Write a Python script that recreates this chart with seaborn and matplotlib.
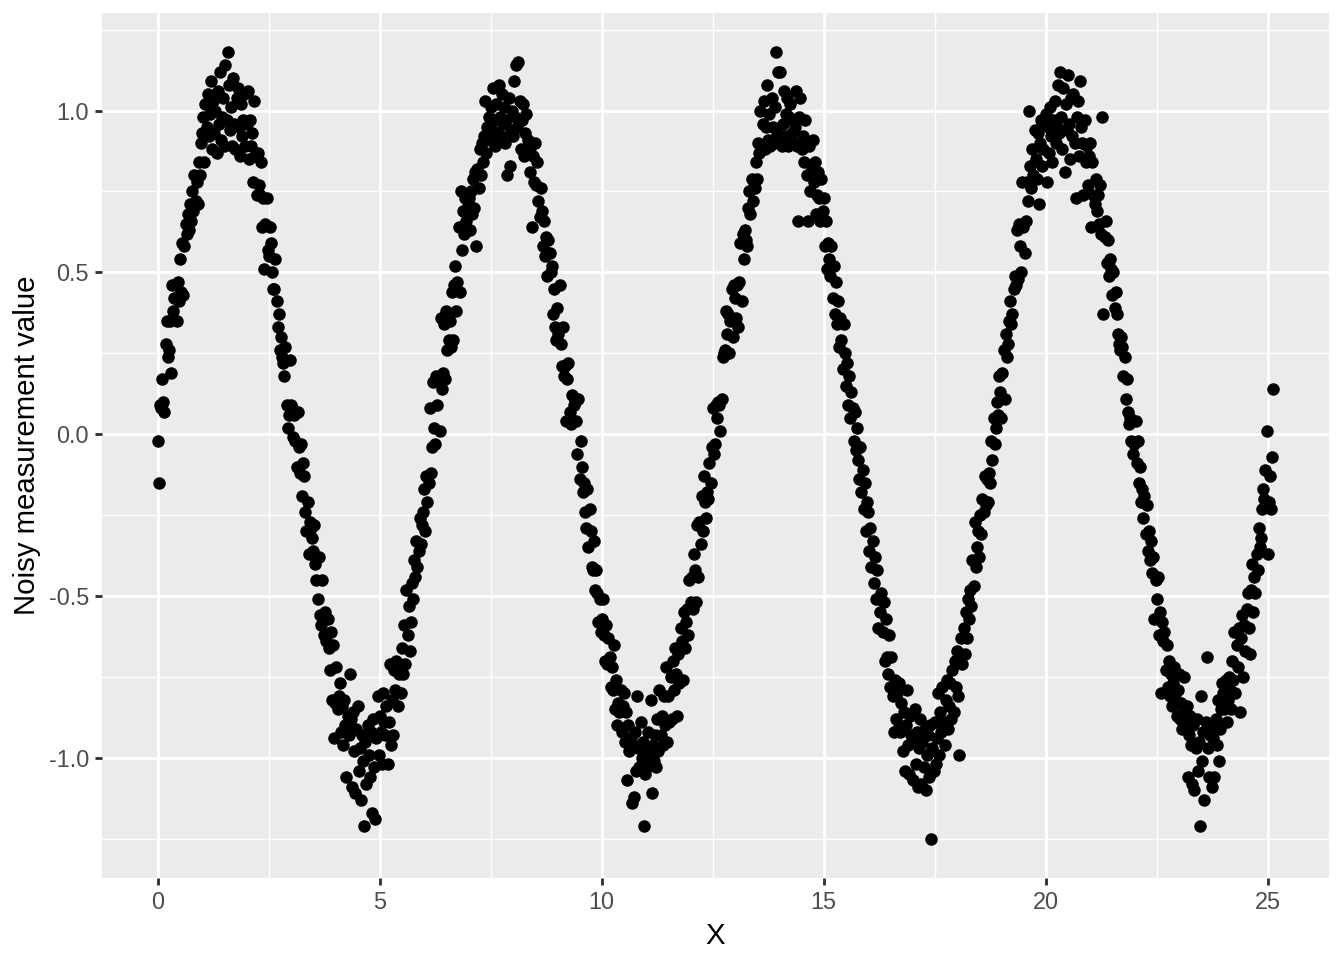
"""Noisy sine measurements: ggplot-style scatter, redrawn with seaborn."""

import matplotlib
matplotlib.use("Agg")
import matplotlib.pyplot as plt
import numpy as np
import pandas as pd
import seaborn as sns
from matplotlib.ticker import FuncFormatter, MultipleLocator


# x runs on an even grid from 0 to ~8*pi, one reading every 0.025
X_MIN, X_MAX = 0.0, 25.125

# readings, split by x-tick interval
Y_0_5 = [
    -0.02, -0.15, 0.09, 0.08, 0.17, 0.10, 0.07, 0.28, 0.35, 0.24, 0.26, 0.35, 0.19, 0.46, 0.38, 0.42, 0.46, 0.35, 0.47, 0.41,
    0.54, 0.44, 0.59, 0.43, 0.58, 0.65, 0.62, 0.68, 0.63, 0.71, 0.66, 0.75, 0.69, 0.80, 0.72, 0.78, 0.71, 0.84, 0.80, 0.90,
    0.93, 0.98, 0.84, 1.02, 0.95, 1.05, 0.92, 0.99, 1.09, 0.88, 1.03, 0.93, 1.00, 0.87, 1.06, 0.96, 1.12, 0.91, 0.98, 1.04,
    0.89, 1.14, 0.97, 1.18, 1.08, 0.94, 1.01, 0.89, 1.10, 0.96, 0.88, 1.04, 1.07, 0.95, 0.86, 1.02, 0.92, 0.97, 1.05, 0.89,
    0.96, 1.06, 0.85, 0.97, 0.89, 0.93, 0.78, 1.03, 0.86, 0.74, 0.87, 0.77, 0.74, 0.84, 0.64, 0.73, 0.51, 0.65, 0.73, 0.57,
    0.55, 0.64, 0.59, 0.50, 0.45, 0.45, 0.54, 0.41, 0.33, 0.37, 0.26, 0.30, 0.24, 0.22, 0.18, 0.27, 0.09, 0.02, 0.06, 0.23,
    0.09, 0.08, -0.01, 0.06, -0.02, -0.10, 0.07, -0.04, -0.12, -0.03, -0.19, -0.09, -0.13, -0.24, -0.30, -0.21, -0.37, -0.27, -0.29, -0.32,
    -0.36, -0.28, -0.40, -0.45, -0.51, -0.38, -0.56, -0.59, -0.45, -0.56, -0.62, -0.55, -0.64, -0.57, -0.66, -0.73, -0.61, -0.82, -0.65, -0.94,
    -0.83, -0.72, -0.85, -0.81, -0.77, -0.92, -0.84, -0.96, -0.82, -0.90, -1.06, -0.87, -0.93, -0.74, -0.88, -1.09, -0.86, -0.98, -1.11, -0.91,
    -0.84, -1.04, -0.97, -1.13, -0.93, -1.01, -1.21, -0.95, -1.08, -0.90, -0.99, -1.06, -0.92, -1.17, -0.88, -1.03, -1.19, -0.94, -0.81, -0.99,
]
Y_5_10 = [
    -0.87, -0.92, -1.02, -0.80, -0.89, -0.93, -0.84, -1.02, -0.89, -0.71, -0.96, -0.82, -0.93, -0.73, -0.79, -0.70, -0.84, -0.74, -0.71, -0.80,
    -0.66, -0.74, -0.59, -0.71, -0.48, -0.62, -0.53, -0.67, -0.58, -0.46, -0.51, -0.39, -0.44, -0.33, -0.41, -0.36, -0.26, -0.34, -0.28, -0.24,
    -0.17, -0.30, -0.13, -0.21, -0.15, 0.08, -0.12, -0.04, 0.16, 0.02, -0.03, 0.18, 0.09, 0.17, 0.01, 0.36, 0.14, 0.19, 0.34, 0.17,
    0.38, 0.26, 0.29, 0.35, 0.27, 0.44, 0.29, 0.46, 0.52, 0.38, 0.47, 0.64, 0.44, 0.75, 0.57, 0.69, 0.62, 0.73, 0.66, 0.70,
    0.73, 0.63, 0.75, 0.68, 0.79, 0.70, 0.81, 0.58, 0.82, 0.76, 0.88, 0.80, 0.90, 0.84, 0.92, 1.03, 0.87, 0.95, 0.98, 0.91,
    1.01, 0.94, 1.07, 0.97, 0.89, 1.02, 0.93, 1.08, 0.98, 0.92, 1.05, 0.96, 1.01, 0.90, 0.97, 0.80, 1.04, 0.83, 0.94, 1.00,
    0.92, 1.09, 0.98, 1.14, 0.95, 1.15, 1.03, 0.88, 0.97, 1.02, 0.86, 0.93, 0.99, 0.87, 0.91, 0.81, 0.89, 0.64, 0.86, 0.78,
    0.90, 0.77, 0.84, 0.72, 0.67, 0.76, 0.69, 0.58, 0.66, 0.55, 0.61, 0.49, 0.60, 0.56, 0.50, 0.52, 0.37, 0.45, 0.33, 0.29,
    0.39, 0.31, 0.46, 0.28, 0.21, 0.33, 0.18, 0.21, 0.04, 0.17, 0.22, 0.07, 0.03, 0.12, 0.04, 0.09, 0.10, 0.04, -0.06, 0.11,
    -0.14, -0.02, -0.10, -0.18, -0.15, -0.24, -0.29, -0.17, -0.35, -0.23, -0.30, -0.41, -0.42, -0.33, -0.48, -0.42, -0.49, -0.58, -0.51, -0.61,
]
Y_10_15 = [
    -0.57, -0.51, -0.62, -0.70, -0.59, -0.71, -0.63, -0.69, -0.78, -0.72, -0.79, -0.65, -0.85, -0.76, -0.90, -0.83, -0.86, -0.79, -0.92, -0.84,
    -0.80, -0.95, -0.86, -1.07, -0.90, -0.98, -0.94, -1.14, -0.96, -1.12, -0.92, -1.04, -0.81, -0.97, -1.03, -0.89, -1.00, -0.95, -1.21, -1.05,
    -0.98, -1.03, -0.92, -0.99, -0.82, -1.11, -0.96, -1.01, -0.93, -1.03, -0.88, -0.98, -0.79, -0.93, -0.87, -0.96, -0.81, -0.90, -0.72, -0.95,
    -0.81, -0.89, -0.75, -0.88, -0.70, -0.79, -0.66, -0.74, -0.87, -0.68, -0.77, -0.60, -0.64, -0.76, -0.55, -0.66, -0.58, -0.54, -0.62, -0.45,
    -0.52, -0.44, -0.54, -0.37, -0.42, -0.52, -0.28, -0.44, -0.27, -0.34, -0.19, -0.30, -0.13, -0.21, -0.26, -0.18, -0.20, -0.09, -0.15, -0.04,
    0.08, -0.06, -0.03, 0.09, 0.05, 0.10, 0.09, 0.01, 0.11, 0.24, 0.25, 0.26, 0.38, 0.31, 0.37, 0.25, 0.35, 0.45, 0.30, 0.46,
    0.42, 0.36, 0.46, 0.33, 0.47, 0.59, 0.41, 0.62, 0.54, 0.63, 0.60, 0.58, 0.70, 0.75, 0.68, 0.79, 0.72, 0.78, 0.76, 0.84,
    0.79, 0.90, 0.87, 1.00, 0.89, 0.96, 1.03, 0.88, 0.95, 1.08, 0.91, 0.99, 0.89, 1.04, 0.95, 0.90, 1.01, 1.18, 0.93, 1.12,
    0.91, 1.12, 0.89, 0.96, 1.06, 0.92, 0.99, 1.04, 0.89, 0.98, 1.02, 0.93, 0.97, 0.90, 0.95, 1.06, 0.89, 0.66, 0.98, 1.04,
    0.88, 0.92, 0.84, 0.97, 0.90, 0.80, 0.66, 0.89, 0.75, 0.82, 0.91, 0.78, 0.84, 0.68, 0.74, 0.81, 0.73, 0.66, 0.79, 0.69,
]
Y_15_20 = [
    0.73, 0.58, 0.66, 0.51, 0.59, 0.54, 0.49, 0.58, 0.42, 0.52, 0.37, 0.47, 0.34, 0.41, 0.27, 0.36, 0.29, 0.20, 0.34, 0.25,
    0.15, 0.22, 0.09, 0.18, 0.05, 0.13, 0.08, -0.02, 0.07, -0.05, 0.02, -0.08, -0.14, -0.04, -0.18, -0.11, -0.23, -0.15, -0.30, -0.21,
    -0.24, -0.36, -0.29, -0.41, -0.33, -0.46, -0.38, -0.51, -0.42, -0.60, -0.51, -0.55, -0.49, -0.61, -0.52, -0.70, -0.57, -0.69, -0.74, -0.62,
    -0.78, -0.69, -0.81, -0.92, -0.76, -0.88, -0.80, -0.91, -0.77, -0.92, -0.83, -0.98, -0.86, -1.04, -0.90, -0.79, -0.96, -1.05, -0.87, -0.93,
    -1.07, -0.94, -0.85, -1.02, -0.92, -1.09, -0.97, -0.88, -1.08, -0.95, -1.03, -0.91, -1.10, -0.99, -0.93, -1.06, -0.90, -1.25, -0.97, -1.04,
    -0.89, -1.02, -0.94, -0.80, -0.99, -0.86, -0.92, -0.78, -0.89, -0.96, -0.82, -0.76, -0.91, -0.84, -0.77, -0.88, -0.73, -0.86, -0.70, -0.78,
    -0.67, -0.81, -0.99, -0.70, -0.63, -0.71, -0.60, -0.68, -0.55, -0.63, -0.51, -0.57, -0.48, -0.53, -0.39, -0.47, -0.27, -0.41, -0.35, -0.30,
    -0.38, -0.25, -0.31, -0.20, -0.24, -0.13, -0.22, -0.14, -0.21, -0.12, -0.15, -0.02, -0.08, 0.05, -0.03, 0.02, 0.10, 0.06, 0.18, 0.13,
    0.05, 0.19, 0.26, 0.11, 0.31, 0.24, 0.28, 0.35, 0.41, 0.34, 0.37, 0.45, 0.49, 0.46, 0.63, 0.48, 0.65, 0.58, 0.50, 0.78,
    0.64, 0.56, 0.66, 0.78, 0.72, 1.00, 0.83, 0.76, 0.88, 0.80, 0.94, 0.85, 0.79, 0.93, 0.71, 0.90, 0.97, 0.83, 0.88, 0.96,
]
Y_20_25 = [
    0.99, 0.78, 0.95, 0.87, 1.01, 0.92, 0.84, 0.97, 1.03, 0.90, 0.95, 1.08, 0.93, 1.12, 0.98, 0.88, 1.07, 0.81, 1.02, 0.94,
    1.11, 0.96, 0.85, 1.04, 0.92, 1.05, 0.90, 0.73, 0.98, 1.03, 0.86, 1.09, 0.95, 0.90, 0.74, 0.97, 0.84, 0.89, 0.77, 0.86,
    0.90, 0.64, 0.84, 0.74, 0.71, 0.79, 0.69, 0.74, 0.65, 0.77, 0.62, 0.98, 0.37, 0.61, 0.66, 0.53, 0.60, 0.49, 0.54, 0.51,
    0.43, 0.50, 0.39, 0.44, 0.37, 0.31, 0.28, 0.26, 0.30, 0.27, 0.18, 0.24, 0.11, 0.17, 0.07, 0.03, 0.05, -0.02, 0.04, -0.06,
    -0.03, 0.04, -0.09, -0.02, -0.15, -0.10, -0.21, -0.17, -0.26, -0.19, -0.31, -0.22, -0.36, -0.30, -0.39, -0.33, -0.43, -0.38, -0.57, -0.45,
    -0.51, -0.44, -0.62, -0.55, -0.80, -0.58, -0.64, -0.61, -0.73, -0.65, -0.78, -0.70, -0.81, -0.74, -0.84, -0.77, -0.72, -0.82, -0.87, -0.79,
    -0.74, -0.88, -0.83, -0.91, -0.86, -0.75, -0.89, -0.84, -1.06, -0.93, -0.87, -0.96, -1.08, -0.90, -1.10, -0.97, -0.88, -1.04, -0.95, -1.21,
    -0.81, -1.01, -0.92, -1.13, -0.89, -0.69, -0.97, -1.06, -0.93, -0.90, -1.09, -0.94, -1.06, -0.88, -0.96, -0.82, -1.01, -0.91, -0.85, -0.77,
    -0.80, -0.85, -0.76, -0.89, -0.82, -0.75, -0.79, -0.85, -0.70, -0.76, -0.61, -0.80, -0.65, -0.72, -0.60, -0.86, -0.63, -0.56, -0.75, -0.59,
    -0.67, -0.54, -0.49, -0.60, -0.68, -0.48, -0.40, -0.55, -0.44, -0.49, -0.37, -0.42, -0.29, -0.35, -0.32, -0.23, -0.17, -0.20, -0.11, 0.01,
    -0.37, -0.21, -0.13, -0.23, -0.07, 0.14,
]

values = Y_0_5 + Y_5_10 + Y_10_15 + Y_15_20 + Y_20_25
df = pd.DataFrame({"X": np.linspace(X_MIN, X_MAX, len(values)), "value": values})

sns.set_theme(style="darkgrid", rc={"axes.facecolor": "#EBEBEB", "grid.color": "white", "figure.facecolor": "white"})
plt.rcParams["font.family"] = ["Liberation Sans", "DejaVu Sans"]

W, H = 1344, 960
fig = plt.figure(figsize=(7, 5), dpi=192)
ax = fig.add_axes([102 / W, 1 - 878 / H, (1329 - 102) / W, (878 - 13) / H])
ax.set_axisbelow(True)
sns.scatterplot(data=df, x="X", y="value", color="black", s=22, linewidth=0, ax=ax)

# ggplot's default 5% expansion
xr = df["X"].max() - df["X"].min()
yr = df["value"].max() - df["value"].min()
ax.set_xlim(df["X"].min() - 0.05 * xr, df["X"].max() + 0.05 * xr)
ax.set_ylim(df["value"].min() - 0.05 * yr, df["value"].max() + 0.05 * yr)

ax.xaxis.set_major_locator(MultipleLocator(5)); ax.xaxis.set_minor_locator(MultipleLocator(2.5))
ax.yaxis.set_major_locator(MultipleLocator(0.5)); ax.yaxis.set_minor_locator(MultipleLocator(0.25))
ax.xaxis.set_major_formatter(FuncFormatter(lambda v, _: f"{v:g}"))
ax.yaxis.set_major_formatter(FuncFormatter(lambda v, _: f"{v:.1f}"))
ax.grid(which="major", color="white", linewidth=1.07)
ax.grid(which="minor", color="white", linewidth=0.53)
ax.tick_params(which="major", length=2.75, width=1.07, color="#333333", labelsize=8.8, labelcolor="#4D4D4D", pad=2.2,
               bottom=True, left=True)
ax.tick_params(which="minor", length=0)
for spine in ax.spines.values():
    spine.set_visible(False)
ax.set_xlabel("X", fontsize=11, color="black", labelpad=2.75)
ax.set_ylabel("Noisy measurement value", fontsize=11, color="black", labelpad=2.75)

fig.savefig("out.png", dpi=192)
